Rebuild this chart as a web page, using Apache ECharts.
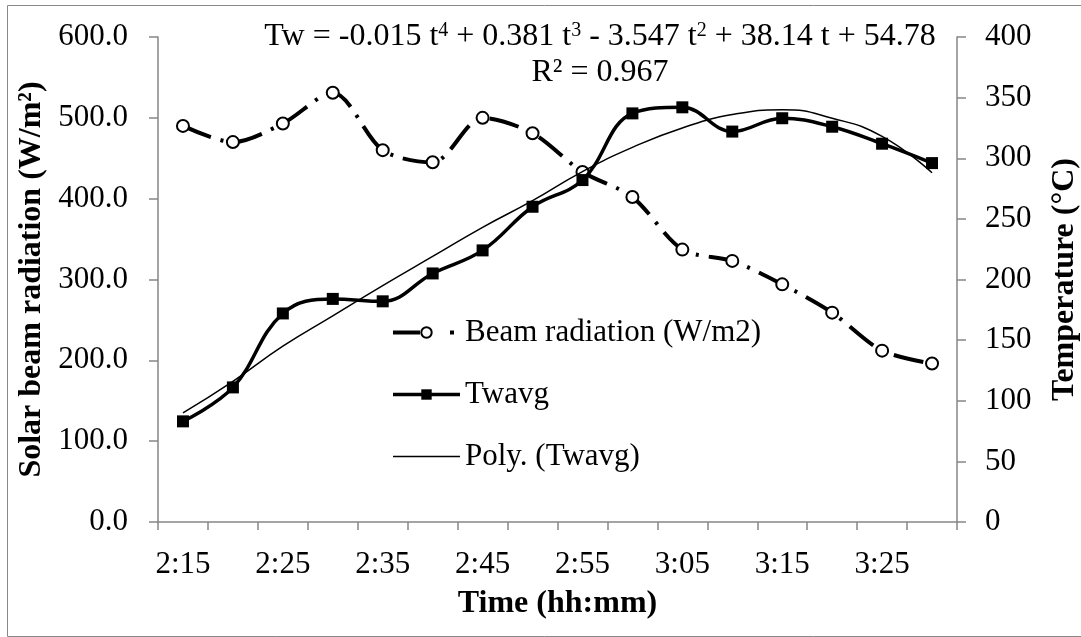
<!DOCTYPE html>
<html>
<head>
<meta charset="utf-8">
<script src="https://cdn.jsdelivr.net/npm/echarts@6/dist/echarts.min.js"></script>
<style>html,body{margin:0;padding:0;background:#fff}#c{width:1081px;height:637px}</style>
</head>
<body>
<div id="c"></div>
<script>
const categories = ['2:15','2:20','2:25','2:30','2:35','2:40','2:45','2:50','2:55','3:00','3:05','3:10','3:15','3:20','3:25','3:30'];
const beamRadiation = [490, 470, 493, 531, 460, 445, 500, 481, 433, 402, 337, 323, 294, 259, 212, 196];
const twavg = [83, 111, 172, 184, 182, 205, 224, 260, 282, 337, 342, 322, 333, 326, 312, 296];
const polyTwavg = [90, 116, 145, 170, 195, 219, 243, 265, 289, 309, 325, 336, 340, 333, 318, 288];
const leftTicks = {min: 0, max: 600, interval: 100};
const rightTicks = {min: 0, max: 400, interval: 50};

const FONT = 'Liberation Serif';
const FS = 31;
const FSN = 32;
const chart = echarts.init(document.getElementById('c'), null, {renderer: 'canvas'});
chart.setOption({
  animation: false,
  backgroundColor: '#fff',
  textStyle: {fontFamily: FONT, color: '#000'},
  graphic: [
    {type: 'rect', shape: {x: 7.5, y: 5.5, width: 1080, height: 631}, style: {fill: 'none', stroke: '#888', lineWidth: 1}, silent: true, z: -1},
    {type: 'text', x: 600, y: 37, style: {
      text: '{a|Tw = -0.015 t}{s|4}{a| + 0.381 t}{s|3}{a| - 3.547 t}{s|2}{a| + 38.14 t + 54.78}',
      align: 'center', verticalAlign: 'middle',
      rich: {
        a: {fontFamily: FONT, fontSize: 32, fill: '#000', lineHeight: 32},
        s: {fontFamily: FONT, fontSize: 20, fill: '#000', lineHeight: 32, verticalAlign: 'top'}
      }
    }, z: 10},
    {type: 'text', x: 600, y: 73, style: {text: 'R² = 0.967', align: 'center', verticalAlign: 'middle', font: '32px "' + FONT + '"', fill: '#000'}, z: 10}
  ],
  grid: {left: 158, right: 124, top: 37, bottom: 115, containLabel: false, outerBoundsMode: 'none'},
  legend: {
    orient: 'vertical', left: 386, top: 312, itemGap: 31,
    itemWidth: 67, itemHeight: 13,
    lineStyle: {width: 'inherit', type: 'inherit'},
    textStyle: {fontFamily: FONT, fontSize: FS, color: '#000'},
    data: [
      {name: 'Beam radiation (W/m2)', lineStyle: {width: 4, type: [27, 30, 4, 20]}},
      {name: 'Twavg', lineStyle: {width: 3.5}},
      {name: 'Poly. (Twavg)', itemStyle: {color: 'rgba(0,0,0,0)', borderColor: 'rgba(0,0,0,0)', borderWidth: 0, opacity: 0}, lineStyle: {width: 1.5, color: '#000', opacity: 1}}
    ]
  },
  xAxis: {
    type: 'category', data: categories, boundaryGap: true,
    name: 'Time (hh:mm)', nameLocation: 'middle', nameGap: 66,
    nameTextStyle: {fontFamily: FONT, fontSize: FSN, fontWeight: 'bold', color: '#000'},
    axisLine: {lineStyle: {color: '#868686', width: 1.5}},
    axisTick: {show: true, interval: 0, length: 8, inside: false, lineStyle: {color: '#868686', width: 1.5}},
    axisLabel: {interval: 1, margin: 27, fontFamily: FONT, fontSize: FS, color: '#000'},
    splitLine: {show: false}
  },
  yAxis: [
    {
      type: 'value', position: 'left', min: leftTicks.min, max: leftTicks.max, interval: leftTicks.interval,
      name: 'Solar beam radiation (W/m²)', nameLocation: 'middle', nameGap: 106, nameRotate: 90,
      nameTextStyle: {fontFamily: FONT, fontSize: FSN, fontWeight: 'bold', color: '#000'},
      axisLine: {show: true, lineStyle: {color: '#868686', width: 1.5}},
      axisTick: {show: true, length: 9, lineStyle: {color: '#868686', width: 1.5}},
      axisLabel: {margin: 30, fontFamily: FONT, fontSize: FS, color: '#000', formatter: v => v.toFixed(1)},
      splitLine: {show: false}
    },
    {
      type: 'value', position: 'right', min: rightTicks.min, max: rightTicks.max, interval: rightTicks.interval,
      name: 'Temperature (°C)', nameLocation: 'middle', nameGap: 92, nameRotate: 90,
      nameTextStyle: {fontFamily: FONT, fontSize: FSN, fontWeight: 'bold', color: '#000'},
      axisLine: {show: true, lineStyle: {color: '#868686', width: 1.5}},
      axisTick: {show: true, length: 9, lineStyle: {color: '#868686', width: 1.5}},
      axisLabel: {margin: 28, fontFamily: FONT, fontSize: FS, color: '#000'},
      splitLine: {show: false}
    }
  ],
  series: [
    {
      name: 'Beam radiation (W/m2)', type: 'line', yAxisIndex: 0, data: beamRadiation,
      smooth: 0.3, symbol: 'circle', symbolSize: 12,
      itemStyle: {color: '#fff', borderColor: '#000', borderWidth: 2},
      lineStyle: {color: '#000', width: 4, type: [30, 10, 3, 10], cap: 'butt'},
      z: 2
    },
    {
      name: 'Twavg', type: 'line', yAxisIndex: 1, data: twavg,
      smooth: 0.4, symbol: 'rect', symbolSize: 12,
      itemStyle: {color: '#000', borderColor: '#000', borderWidth: 0},
      lineStyle: {color: '#000', width: 3.5},
      z: 3
    },
    {
      name: 'Poly. (Twavg)', type: 'line', yAxisIndex: 1, data: polyTwavg,
      smooth: 0.5, symbol: 'none', showSymbol: false,
      itemStyle: {color: '#000'},
      lineStyle: {color: '#000', width: 1.5},
      z: 4
    }
  ]
});
</script>
</body>
</html>
